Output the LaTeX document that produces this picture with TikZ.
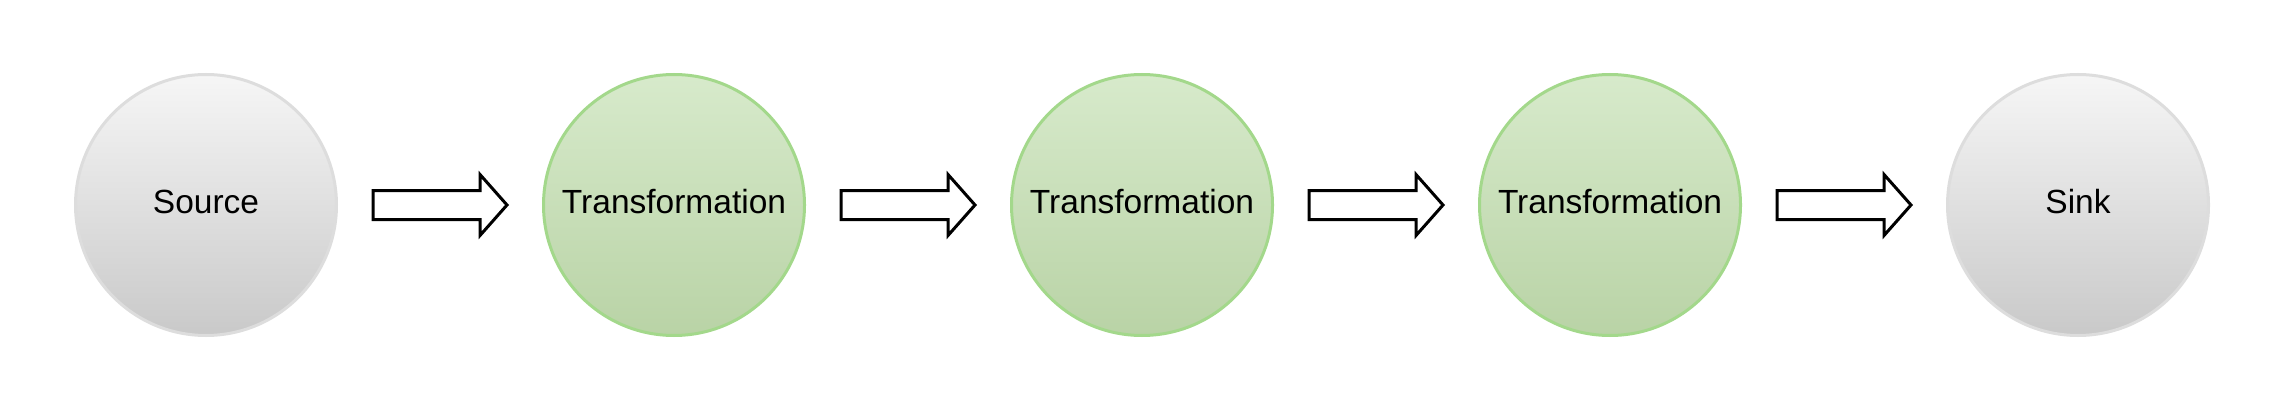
\documentclass[tikz,border=0pt]{standalone}
\usepackage{fontspec}
\setmainfont{Liberation Sans}

\definecolor{GreyTop}{HTML}{F6F6F6}
\definecolor{GreyBot}{HTML}{C9C9C9}
\definecolor{GreyLine}{HTML}{DDDDDD}
\definecolor{GreenTop}{HTML}{D7EACB}
\definecolor{GreenBot}{HTML}{B9D3A6}
\definecolor{GreenLine}{HTML}{A3D88B}

\begin{document}
\begin{tikzpicture}[x=1pt, y=1pt,
  greycirc/.style={circle, minimum size=261pt, inner sep=0pt, line width=3pt,
    draw=GreyLine, top color=GreyTop, bottom color=GreyBot,
    text height=24pt, text depth=7pt,
    font=\fontsize{33.5}{40}\selectfont},
  greencirc/.style={greycirc, draw=GreenLine, top color=GreenTop, bottom color=GreenBot},
  blockarrow/.style={draw=black, fill=white, line width=3pt, line join=miter}]

 % Frame
 \useasboundingbox (0,0) rectangle (2288,413);

 %%%%%%%%%% Centres of the circles %%%%%%%%%%
 \coordinate (0) at (206,208);
 \coordinate (1) at (674,208);
 \coordinate (2) at (1142,208);
 \coordinate (3) at (1610,208);
 \coordinate (4) at (2078,208);

 % Source and sink
 \node[greycirc] (src) at (0) {Source};
 \node[greycirc] (sink) at (4) {Sink};

 % Transformations
 \node[greencirc] (tr1) at (1) {Transformation};
 \node[greencirc] (tr2) at (2) {Transformation};
 \node[greencirc] (tr3) at (3) {Transformation};

 % Arrows between the stages
 \draw[blockarrow, shift={(0)}] (167,-14.5) -- (274,-14.5) -- (274,-30.5) -- (301,0) -- (274,30.5) -- (274,14.5) -- (167,14.5) -- cycle;
 \draw[blockarrow, shift={(1)}] (167,-14.5) -- (274,-14.5) -- (274,-30.5) -- (301,0) -- (274,30.5) -- (274,14.5) -- (167,14.5) -- cycle;
 \draw[blockarrow, shift={(2)}] (167,-14.5) -- (274,-14.5) -- (274,-30.5) -- (301,0) -- (274,30.5) -- (274,14.5) -- (167,14.5) -- cycle;
 \draw[blockarrow, shift={(3)}] (167,-14.5) -- (274,-14.5) -- (274,-30.5) -- (301,0) -- (274,30.5) -- (274,14.5) -- (167,14.5) -- cycle;

\end{tikzpicture}
\end{document}
